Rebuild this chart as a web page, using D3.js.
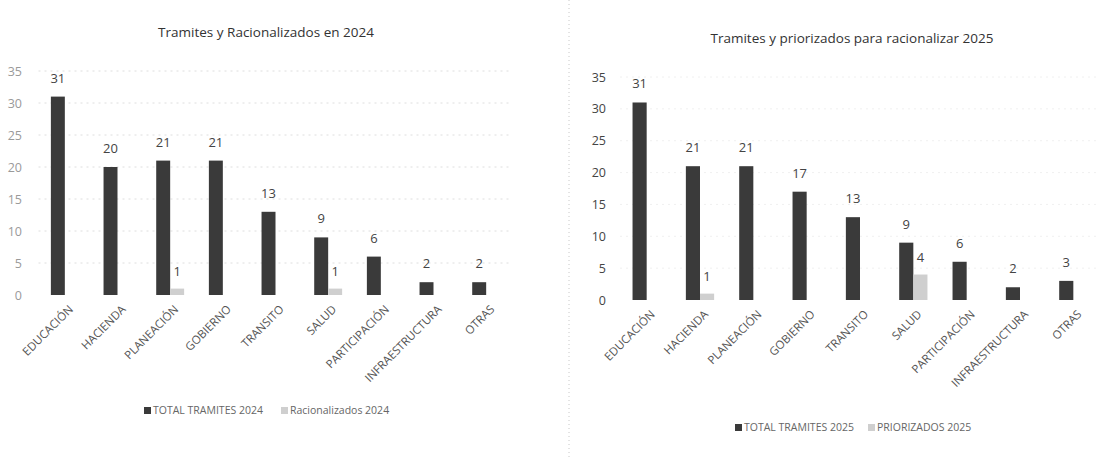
<!DOCTYPE html>
<html>
  <head>
    <meta charset="utf-8" />
    <script src="https://cdnjs.cloudflare.com/ajax/libs/d3/7.8.5/d3.min.js"></script>
    <style>
      body {
        margin: 0;
        background: #ffffff;
      }
      text {
        font-family: "Open Sans", sans-serif;
      }
    </style>
  </head>

  <body>
    <svg width="1098" height="457"></svg>

    <script type="text/javascript">
      var categories = [
        "EDUCACIÓN",
        "HACIENDA",
        "PLANEACIÓN",
        "GOBIERNO",
        "TRANSITO",
        "SALUD",
        "PARTICIPACIÓN",
        "INFRAESTRUCTURA",
        "OTRAS",
      ];
      var totals2024 = [31, 20, 21, 21, 13, 9, 6, 2, 2];
      var racionalizados2024 = [0, 0, 1, 0, 0, 1, 0, 0, 0];
      var totals2025 = [31, 21, 21, 17, 13, 9, 6, 2, 3];
      var priorizados2025 = [0, 1, 0, 0, 0, 4, 0, 0, 0];
      var yTicks = [0, 5, 10, 15, 20, 25, 30, 35];

      var svg = d3.select("svg");

      // faint dotted divider between the two pasted charts
      svg
        .append("line")
        .attr("x1", 569)
        .attr("x2", 569)
        .attr("y1", 0)
        .attr("y2", 457)
        .attr("stroke", "#c8c8c8")
        .attr("stroke-width", 1)
        .attr("stroke-dasharray", "1,3");

      drawChart({
        title: "Tramites y Racionalizados en 2024",
        titleX: 266,
        titleY: 37,
        xRange: [38.5, 512.5],
        yRange: [295, 71],
        axisX: 22,
        tickColor: "#9a9a9a",
        gridColor: "#dedede",
        totals: totals2024,
        second: racionalizados2024,
        legend: ["TOTAL TRAMITES 2024", "Racionalizados 2024"],
        legendX: [144, 281],
        legendY: 414,
      });

      drawChart({
        title: "Tramites y priorizados para racionalizar 2025",
        titleX: 852,
        titleY: 43,
        xRange: [620, 1100],
        yRange: [300, 77],
        axisX: 606,
        tickColor: "#444444",
        gridColor: "#f0f0f0",
        totals: totals2025,
        second: priorizados2025,
        legend: ["TOTAL TRAMITES 2025", "PRIORIZADOS 2025"],
        legendX: [735, 868],
        legendY: 431,
      });

      function drawChart(opt) {
        var g = svg.append("g");

        var xScale = d3
          .scaleBand()
          .domain(categories)
          .range(opt.xRange)
          .paddingInner(0.47)
          .paddingOuter(0.235);

        var sub = d3
          .scaleBand()
          .domain([0, 1])
          .range([0, xScale.bandwidth()]);

        var yScale = d3.scaleLinear().domain([0, 35]).range(opt.yRange);

        // gridlines
        g.selectAll(null)
          .data(yTicks.slice(1))
          .enter()
          .append("line")
          .attr("x1", opt.xRange[0])
          .attr("x2", opt.xRange[1])
          .attr("y1", (d) => yScale(d))
          .attr("y2", (d) => yScale(d))
          .attr("stroke", opt.gridColor)
          .attr("stroke-width", 1)
          .attr("stroke-dasharray", "2,4");

        // y axis labels only, no line
        var yAxis = d3
          .axisLeft(yScale)
          .tickValues(yTicks)
          .tickSize(0)
          .tickPadding(0);
        var ya = g
          .append("g")
          .attr("transform", "translate(" + opt.axisX + ",0)")
          .call(yAxis);
        ya.select(".domain").remove();
        ya.selectAll("text")
          .attr("fill", opt.tickColor)
          .style("font-size", "12.5px");

        // title
        g.append("text")
          .attr("x", opt.titleX)
          .attr("y", opt.titleY)
          .attr("text-anchor", "middle")
          .attr("fill", "#333")
          .style("font-size", "13.5px")
          .text(opt.title);

        var rows = categories.map((c, i) => {
          return { name: c, total: opt.totals[i], second: opt.second[i] };
        });

        // total bars
        g.selectAll(null)
          .data(rows)
          .enter()
          .append("rect")
          .attr("x", (d) => xScale(d.name) + sub(0))
          .attr("y", (d) => yScale(d.total))
          .attr("width", sub.bandwidth())
          .attr("height", (d) => yScale(0) - yScale(d.total))
          .attr("fill", "#3a3a3a");

        // second series bars
        g.selectAll(null)
          .data(rows.filter((d) => d.second > 0))
          .enter()
          .append("rect")
          .attr("x", (d) => xScale(d.name) + sub(1))
          .attr("y", (d) => yScale(d.second))
          .attr("width", sub.bandwidth())
          .attr("height", (d) => yScale(0) - yScale(d.second))
          .attr("fill", "#cfcfcf");

        // value labels
        g.selectAll(null)
          .data(rows)
          .enter()
          .append("text")
          .attr("x", (d) => xScale(d.name) + sub(0) + sub.bandwidth() / 2)
          .attr("y", (d) => yScale(d.total) - 14)
          .attr("text-anchor", "middle")
          .attr("fill", "#444")
          .style("font-size", "13px")
          .text((d) => d.total);

        g.selectAll(null)
          .data(rows.filter((d) => d.second > 0))
          .enter()
          .append("text")
          .attr("x", (d) => xScale(d.name) + sub(1) + sub.bandwidth() / 2)
          .attr("y", (d) => yScale(d.second) - 13)
          .attr("text-anchor", "middle")
          .attr("fill", "#444")
          .style("font-size", "13px")
          .text((d) => d.second);

        // rotated category labels
        var base = yScale(0);
        g.selectAll(null)
          .data(categories)
          .enter()
          .append("text")
          .attr("text-anchor", "end")
          .attr("transform", (d) => {
            return (
              "translate(" +
              (xScale(d) + xScale.bandwidth() / 2 + 9) +
              "," +
              (base + 15) +
              ") rotate(-45)"
            );
          })
          .attr("fill", "#555")
          .style("font-size", "11.5px")
          .text((d) => d);

        // legend
        var colors = ["#3a3a3a", "#cfcfcf"];
        opt.legend.forEach((name, i) => {
          g.append("rect")
            .attr("x", opt.legendX[i])
            .attr("y", opt.legendY - 7)
            .attr("width", 7)
            .attr("height", 7)
            .attr("fill", colors[i]);
          g.append("text")
            .attr("x", opt.legendX[i] + 9)
            .attr("y", opt.legendY)
            .attr("fill", "#666")
            .style("font-size", "10.5px")
            .text(name);
        });
      }
    </script>
  </body>
</html>
